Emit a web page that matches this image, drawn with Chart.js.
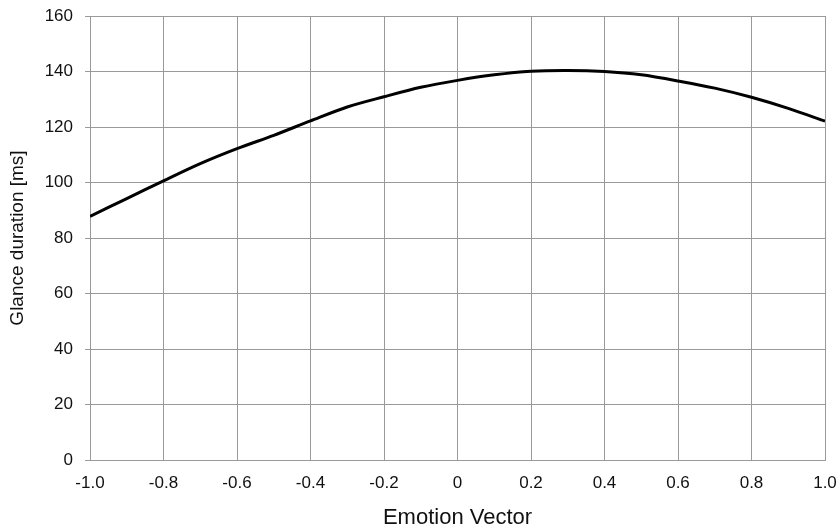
<!DOCTYPE html>
<html>
<head>
<meta charset="utf-8">
<script src="https://cdn.jsdelivr.net/npm/chart.js@4/dist/chart.umd.min.js"></script>
<style>
  html, body { margin: 0; padding: 0; background: #fff; }
  #wrap { width: 839px; height: 531px; }
</style>
</head>
<body>
<div id="wrap"><canvas id="glanceGraph"></canvas></div>
<script>
// values
var emotionVector = [-1.0, -0.9, -0.8, -0.7, -0.6, -0.5, -0.4, -0.3, -0.2, -0.1, 0,
                     0.1, 0.2, 0.3, 0.4, 0.5, 0.6, 0.7, 0.8, 0.9, 1.0];
var glanceDuration = [87.8, 94.2, 100.6, 106.8, 112.2, 117.0, 122.2, 127.2, 130.9, 134.3, 136.8,
                      138.8, 140.1, 140.4, 140.0, 138.8, 136.6, 134.0, 130.7, 126.7, 122.1];
var xTickLabels = ['-1.0', '-0.8', '-0.6', '-0.4', '-0.2', '0', '0.2', '0.4', '0.6', '0.8', '1.0'];
var yTickLabels = ['0', '20', '40', '60', '80', '100', '120', '140', '160'];

var points = [];
for (var i = 0; i < emotionVector.length; i++) {
    points.push({x: emotionVector[i], y: glanceDuration[i]});
}

var gridColor = '#9a9a9a';
var textColor = '#111';

const ctx = document.getElementById('glanceGraph').getContext('2d');
const glanceGraph = new Chart(ctx, {
    type: 'line',
    data: {
        datasets: [{
            data: points,
            borderColor: '#000',
            borderWidth: 3,
            pointRadius: 0,
            tension: 0.3,
            fill: false
        }]
    },
    options: {
        responsive: true,
        maintainAspectRatio: false,
        animation: false,
        layout: {
            padding: {left: 0, right: 14, top: 16, bottom: 0}
        },
        plugins: {
            legend: {display: false},
            tooltip: {enabled: false}
        },
        scales: {
            x: {
                type: 'linear',
                min: -1,
                max: 1,
                grid: {color: gridColor, lineWidth: 1, drawTicks: false},
                border: {color: gridColor, width: 1},
                ticks: {
                    stepSize: 0.2,
                    padding: 13,
                    maxRotation: 0,
                    autoSkip: false,
                    color: textColor,
                    font: {family: 'Liberation Sans', size: 17},
                    callback: function (value, index) { return xTickLabels[index]; }
                },
                title: {
                    display: true,
                    text: 'Emotion Vector',
                    color: textColor,
                    font: {family: 'Liberation Sans', size: 22},
                    padding: {top: 0, bottom: 0}
                },
                afterFit: function (scale) {
                    scale.height = 71;
                    scale.paddingLeft = 0;
                    scale.paddingRight = 0;
                }
            },
            y: {
                min: 0,
                max: 160,
                grid: {color: gridColor, lineWidth: 1, tickLength: 5},
                border: {color: gridColor, width: 1},
                ticks: {
                    stepSize: 20,
                    padding: 12,
                    color: textColor,
                    font: {family: 'Liberation Sans', size: 17},
                    callback: function (value, index) { return yTickLabels[index]; }
                },
                title: {
                    display: true,
                    text: 'Glance duration [ms]',
                    color: textColor,
                    font: {family: 'Liberation Sans', size: 19},
                    padding: {top: 6, bottom: 0}
                },
                afterFit: function (scale) {
                    scale.width = 90;
                    scale.paddingTop = 0;
                    scale.paddingBottom = 0;
                }
            }
        }
    }
});
</script>
</body>
</html>
